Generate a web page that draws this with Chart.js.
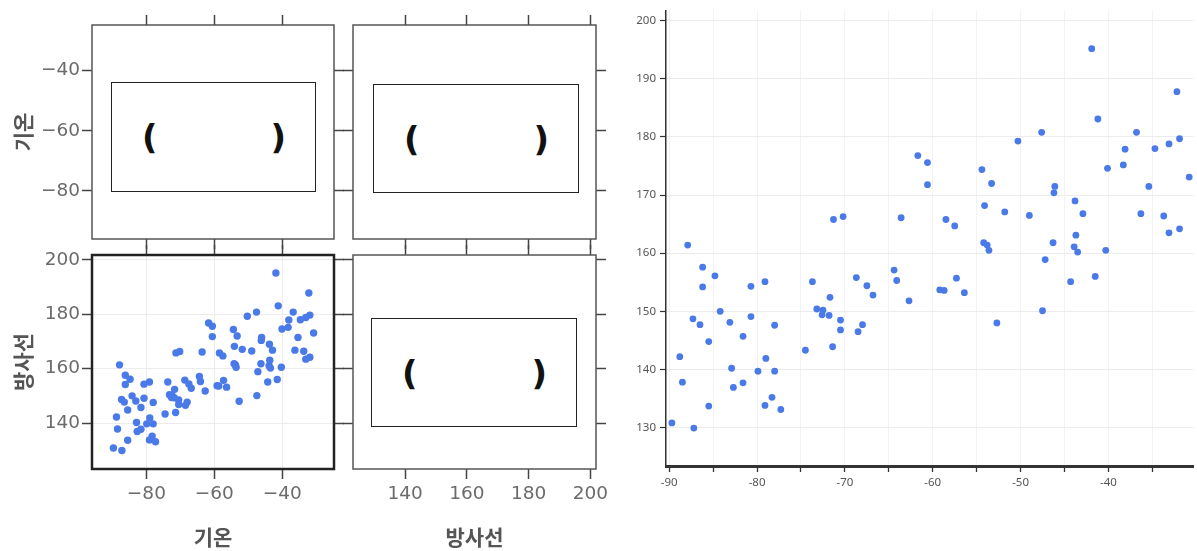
<!DOCTYPE html>
<html lang="ko">
<head>
<meta charset="utf-8">
<script src="https://cdn.jsdelivr.net/npm/chart.js@4.4.1/dist/chart.umd.min.js"></script>
<style>
  html, body { margin: 0; padding: 0; background: #fff; }
  body { width: 1197px; height: 551px; position: relative; overflow: hidden; }
  .pane { position: absolute; }
  .blank { position: absolute; border: 1.2px solid #222; background: #fff; box-sizing: border-box;
    display: flex; justify-content: space-between; align-items: center; padding: 0 29px 0 30px; }
  .blank span { line-height: 1; font: bold 34px "DejaVu Sans", sans-serif; color: #111; }
</style>
</head>
<body>
<div class="pane" style="left:0;top:5px;width:354px;height:250px"><canvas id="tl"></canvas></div>
<div class="pane" style="left:333px;top:5px;width:287px;height:250px"><canvas id="tr"></canvas></div>
<div class="pane" style="left:0;top:239px;width:354px;height:312px"><canvas id="bl"></canvas></div>
<div class="pane" style="left:333px;top:239px;width:287px;height:312px"><canvas id="br"></canvas></div>
<div class="pane" style="left:628px;top:0;width:569px;height:551px"><canvas id="main"></canvas></div>

<div class="blank" style="left:111px;top:82px;width:205px;height:110px"><span>(</span><span>)</span></div>
<div class="blank" style="left:373px;top:84px;width:206px;height:109px"><span>(</span><span>)</span></div>
<div class="blank" style="left:371px;top:318px;width:206px;height:109px"><span>(</span><span>)</span></div>

<script>
// 기온 / 방사선 측정값
const tempVals = [
  -61.7, -60.6, -60.6, -71.3, -70.2, -63.6, -87.9, -41.9, -32.2, -41.2,
  -47.6, -36.8, -50.3, -31.9, -38.1, -34.7, -33.1, -54.4, -40.1, -38.3,
  -30.8, -53.3, -46.1, -46.2, -35.4, -43.8, -54.1, -51.8, -49.0, -42.9,
  -36.3, -33.7, -58.5, -57.5, -43.7, -33.1, -31.9, -54.2, -53.8, -53.6,
  -46.3, -43.9, -43.5, -40.3, -47.2, -57.3, -59.2, -58.7, -56.4, -44.3,
  -41.5, -47.5, -52.7, -86.2, -84.8, -86.2, -80.7, -79.1, -73.7, -68.7,
  -67.5, -66.8, -64.4, -64.1, -62.7, -71.7, -84.2, -87.3, -86.5, -83.1,
  -80.7, -78.0, -73.2, -72.5, -72.6, -71.8, -70.5, -70.5, -68.0, -68.5,
  -85.5, -81.6, -74.5, -71.4, -88.8, -79.0, -82.9, -79.9, -78.0, -88.5,
  -82.7, -81.6, -78.3, -79.1, -77.3, -85.5, -89.7, -87.2
];
const radVals = [
  176.8, 175.6, 171.8, 165.8, 166.3, 166.1, 161.4, 195.2, 187.8, 183.1,
  180.8, 180.8, 179.3, 179.7, 177.9, 178.0, 178.8, 174.4, 174.6, 175.2,
  173.1, 172.0, 171.5, 170.4, 171.5, 169.0, 168.2, 167.1, 166.5, 166.8,
  166.8, 166.4, 165.8, 164.7, 163.1, 163.5, 164.2, 161.8, 161.4, 160.5,
  161.8, 161.1, 160.2, 160.5, 158.9, 155.7, 153.7, 153.6, 153.2, 155.1,
  156.0, 150.1, 148.0, 157.6, 156.1, 154.2, 154.3, 155.1, 155.1, 155.8,
  154.4, 152.8, 157.1, 155.3, 151.8, 152.4, 150.0, 148.7, 147.7, 148.1,
  149.1, 147.6, 150.4, 150.2, 149.4, 149.3, 148.5, 146.8, 147.7, 146.5,
  144.8, 145.7, 143.3, 143.9, 142.2, 141.9, 140.2, 139.7, 139.7, 137.8,
  136.9, 137.7, 135.2, 133.8, 133.1, 133.7, 130.8, 129.9
];
const varNames = ['기온', '방사선'];

// 축 범위
const tempRange = [-96, -24.8];
const radRange = [123.1, 201.8];
const mainX = [-90.37, -30.3];
const mainY = [123.38, 201.7];

const points = tempVals.map((t, i) => ({ x: t, y: radVals[i] }));
const dotColor = '#4a79e8';

function panelBorder(width, color) {
    return {
        id: 'panelBorder',
        afterDraw(chart) {
            const { ctx, chartArea: a } = chart;
            ctx.save();
            ctx.lineWidth = width;
            ctx.strokeStyle = color;
            ctx.strokeRect(a.left, a.top, a.right - a.left, a.bottom - a.top);
            ctx.restore();
        }
    };
}

function axis(pos, range, size, o = {}) {
    const horizontal = pos === 'top' || pos === 'bottom';
    return {
        type: 'linear',
        position: pos,
        axis: horizontal ? 'x' : 'y',
        min: range[0],
        max: range[1],
        border: { display: false },
        grid: {
            drawOnChartArea: !!o.grid,
            color: '#ececec',
            tickColor: '#444',
            tickLength: 10,
            tickWidth: 1.5
        },
        ticks: {
            display: !!o.labels,
            stepSize: 20,
            includeBounds: false,
            autoSkip: false,
            maxRotation: 0,
            padding: horizontal ? 4 : 2,
            color: '#6b6b6b',
            font: { family: "'DejaVu Sans', sans-serif", size: 18.5 },
            callback: v => String(v).replace('-', '\u2212')
        },
        title: {
            display: !!o.title,
            text: o.title || '',
            color: '#555',
            font: { family: "'Noto Sans CJK KR', sans-serif", size: 21, weight: 'bold' },
            padding: horizontal ? { top: 0, bottom: 1 } : { top: 10, bottom: 0 }
        },
        afterFit: s => {
            if (horizontal) s.height = size;
            else s.width = size;
        }
    };
}

// 산점도 행렬의 한 칸
function panel(id, cfg) {
    new Chart(document.getElementById(id), {
        type: 'scatter',
        data: {
            datasets: cfg.data ? [{
                data: cfg.data,
                pointRadius: 3.7,
                pointHoverRadius: 3.7,
                backgroundColor: dotColor,
                borderWidth: 0
            }] : []
        },
        options: {
            animation: false,
            responsive: true,
            maintainAspectRatio: false,
            layout: { padding: 0 },
            plugins: { legend: { display: false }, tooltip: { enabled: false } },
            scales: {
                x: axis('bottom', cfg.xr, cfg.b, cfg.xo),
                x2: axis('top', cfg.xr, cfg.t),
                y: axis('left', cfg.yr, cfg.l, cfg.yo),
                y2: axis('right', cfg.yr, cfg.r)
            }
        },
        plugins: [panelBorder(cfg.bw || 1.5, cfg.bc || '#555')]
    });
}

panel('tl', { xr: tempRange, yr: tempRange, l: 92, r: 20, t: 20, b: 16,
    yo: { labels: true, title: varNames[0] } });
panel('tr', { xr: radRange, yr: tempRange, l: 20, r: 24, t: 20, b: 16 });
panel('bl', { xr: tempRange, yr: radRange, l: 92, r: 20, t: 16, b: 82,
    data: points, bw: 2.5, bc: '#222',
    xo: { labels: true, title: varNames[0], grid: true },
    yo: { labels: true, title: varNames[1], grid: true } });
panel('br', { xr: radRange, yr: radRange, l: 20, r: 24, t: 16, b: 82,
    xo: { labels: true, title: varNames[1] } });

// 오른쪽 확대 산점도
new Chart(document.getElementById('main'), {
    type: 'scatter',
    data: {
        datasets: [{
            data: points,
            pointRadius: 3.4,
            pointHoverRadius: 3.4,
            backgroundColor: dotColor,
            borderWidth: 0
        }]
    },
    options: {
        animation: false,
        responsive: true,
        maintainAspectRatio: false,
        layout: { padding: { top: 7, right: 0, bottom: 0, left: 0 } },
        plugins: { legend: { display: false }, tooltip: { enabled: false } },
        scales: {
            x: {
                type: 'linear',
                min: mainX[0],
                max: mainX[1],
                border: { color: '#333', width: 3 },
                grid: { color: '#f3f3f3', tickColor: '#333', tickLength: 6, tickWidth: 1.3 },
                ticks: {
                    stepSize: 5,
                    includeBounds: false,
                    autoSkip: false,
                    maxRotation: 0,
                    padding: 4,
                    color: '#555',
                    font: { family: "'Noto Sans', sans-serif", size: 11.5 },
                    callback: v => (v % 10 === 0 ? String(v) : '')
                },
                afterFit: s => { s.height = 85; }
            },
            y: {
                type: 'linear',
                min: mainY[0],
                max: mainY[1],
                border: { color: '#333', width: 1.5 },
                grid: { color: '#ececec', tickColor: '#333', tickLength: 6, tickWidth: 1.2 },
                ticks: {
                    stepSize: 10,
                    includeBounds: false,
                    padding: 4,
                    color: '#555',
                    font: { family: "'Noto Sans', sans-serif", size: 11.5 }
                },
                afterFit: s => { s.width = 38; }
            }
        }
    }
});
</script>
</body>
</html>
